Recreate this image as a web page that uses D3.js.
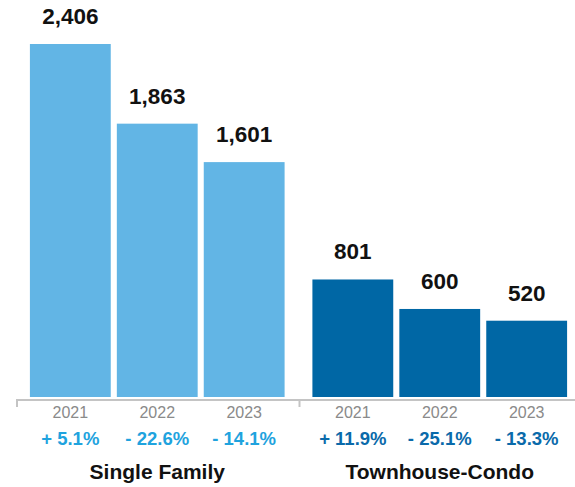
<!DOCTYPE html>
<html lang="en">
<head>
<meta charset="UTF-8">
<script src="https://d3js.org/d3.v7.min.js"></script>
<style>
  body { margin: 0; background: #fff; }
  text { font-family: "Liberation Sans", Arial, Helvetica, sans-serif; }
</style>
</head>
<body>
<div id="chart"></div>
<script>
// data
var groups = ['Single Family', 'Townhouse-Condo'];
var years = ['2021', '2022', '2023'];
var singleFamily = [2406, 1863, 1601];
var townhouseCondo = [801, 600, 520];
var singleChange = ['+ 5.1%', '- 22.6%', '- 14.1%'];
var townChange = ['+ 11.9%', '- 25.1%', '- 13.3%'];

var barColors = ['#62b5e5', '#0067a5'];
var pctColors = ['#1fa3de', '#0a6aaa'];

var width = 575, height = 487;

var series = [singleFamily, townhouseCondo];
var changes = [singleChange, townChange];

var rows = [];
groups.forEach(function(g, gi) {
    years.forEach(function(y, yi) {
        rows.push({group: g, gi: gi, year: y, value: series[gi][yi], change: changes[gi][yi]});
    });
});

var svg = d3.select('#chart')
    .append('svg')
        .attr('width', width)
        .attr('height', height);

var x0 = d3.scaleBand()
    .domain(groups)
    .range([16, 581]);

var x1 = d3.scaleBand()
    .domain(years)
    .range([0, x0.bandwidth()])
    .paddingInner(0.07)
    .paddingOuter(0.16);

var y = d3.scaleLinear()
    .domain([0, 2406])
    .range([397, 44]);

function cx(d) { return x0(d.group) + x1(d.year) + x1.bandwidth() / 2; }

// bars
svg.selectAll('rect.bar')
    .data(rows)
    .enter()
    .append('rect')
        .attr('class', 'bar')
        .attr('x', function(d) { return x0(d.group) + x1(d.year); })
        .attr('y', function(d) { return y(d.value); })
        .attr('width', x1.bandwidth())
        .attr('height', function(d) { return y(0) - y(d.value); })
        .attr('fill', function(d) { return barColors[d.gi]; });

// value labels
svg.selectAll('text.val')
    .data(rows)
    .enter()
    .append('text')
        .attr('class', 'val')
        .attr('x', cx)
        .attr('y', function(d) { return y(d.value) - 20; })
        .attr('text-anchor', 'middle')
        .style('font-size', '22.5px')
        .style('font-weight', 'bold')
        .style('fill', '#111')
        .text(function(d) { return d3.format(',')(d.value); });

// axis baseline + ticks
var axisY = 400;
svg.append('line')
    .attr('x1', x0.range()[0]).attr('x2', width)
    .attr('y1', axisY).attr('y2', axisY)
    .attr('stroke', '#c4c4c4')
    .attr('stroke-width', 2);

svg.selectAll('line.tick')
    .data(groups)
    .enter()
    .append('line')
        .attr('class', 'tick')
        .attr('x1', function(d) { return x0(d) + 1; })
        .attr('x2', function(d) { return x0(d) + 1; })
        .attr('y1', axisY)
        .attr('y2', axisY + 7)
        .attr('stroke', '#c4c4c4')
        .attr('stroke-width', 2);

// year labels
svg.selectAll('text.year')
    .data(rows)
    .enter()
    .append('text')
        .attr('class', 'year')
        .attr('x', cx)
        .attr('y', 418)
        .attr('text-anchor', 'middle')
        .style('font-size', '16px')
        .style('fill', '#8a8a8a')
        .text(function(d) { return d.year; });

// percent change
svg.selectAll('text.pct')
    .data(rows)
    .enter()
    .append('text')
        .attr('class', 'pct')
        .attr('x', cx)
        .attr('y', 445)
        .attr('text-anchor', 'middle')
        .style('font-size', '18.5px')
        .style('font-weight', 'bold')
        .style('fill', function(d) { return pctColors[d.gi]; })
        .text(function(d) { return d.change; });

// group titles
svg.selectAll('text.group')
    .data(groups)
    .enter()
    .append('text')
        .attr('class', 'group')
        .attr('x', function(d) { return x0(d) + x0.bandwidth() / 2; })
        .attr('y', 479)
        .attr('text-anchor', 'middle')
        .style('font-size', '21px')
        .style('font-weight', 'bold')
        .style('fill', '#111')
        .text(function(d) { return d; });
</script>
</body>
</html>
